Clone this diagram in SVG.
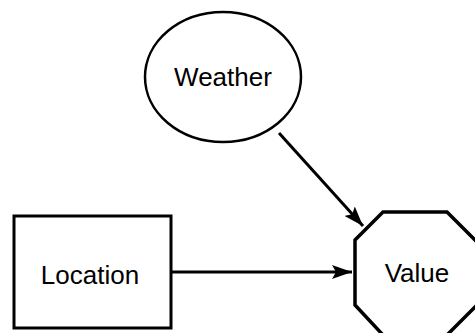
<svg xmlns="http://www.w3.org/2000/svg" width="475" height="333" viewBox="0 0 475 333">
<style>
.shape{fill:#fff;stroke:#000}
.lbl{font-family:"Liberation Sans",Arial,sans-serif;font-size:26px;fill:#000;text-anchor:middle}
.edge{stroke:#000;stroke-width:3;fill:none}
</style>
<defs>
<marker id="arrow" viewBox="0 0 20 14" refX="20" refY="7" markerWidth="20" markerHeight="14" markerUnits="userSpaceOnUse" orient="auto">
<path d="M0,0 L20,7 L0,14 L4,7 Z" fill="#000"/>
</marker>
</defs>
<rect width="475" height="333" fill="#fff"/>
<g id="connectors">
<line class="edge" x1="279" y1="133" x2="363" y2="226" marker-end="url(#arrow)"/>
<line class="edge" x1="171" y1="272" x2="352" y2="272" marker-end="url(#arrow)"/>
</g>
<g id="weather">
<ellipse class="shape" cx="223" cy="77" rx="78" ry="65" stroke-width="2.5"/>
<text class="lbl" x="223" y="86">Weather</text>
</g>
<g id="location">
<rect class="shape" x="14" y="216" width="157" height="112" stroke-width="3"/>
<text class="lbl" x="90" y="284">Location</text>
</g>
<g id="value">
<polygon class="shape" points="383,212 447,212 478,243 478,304 447,335 383,335 355,305 355,240" stroke-width="3.5"/>
<text class="lbl" x="417" y="282">Value</text>
</g>
</svg>
